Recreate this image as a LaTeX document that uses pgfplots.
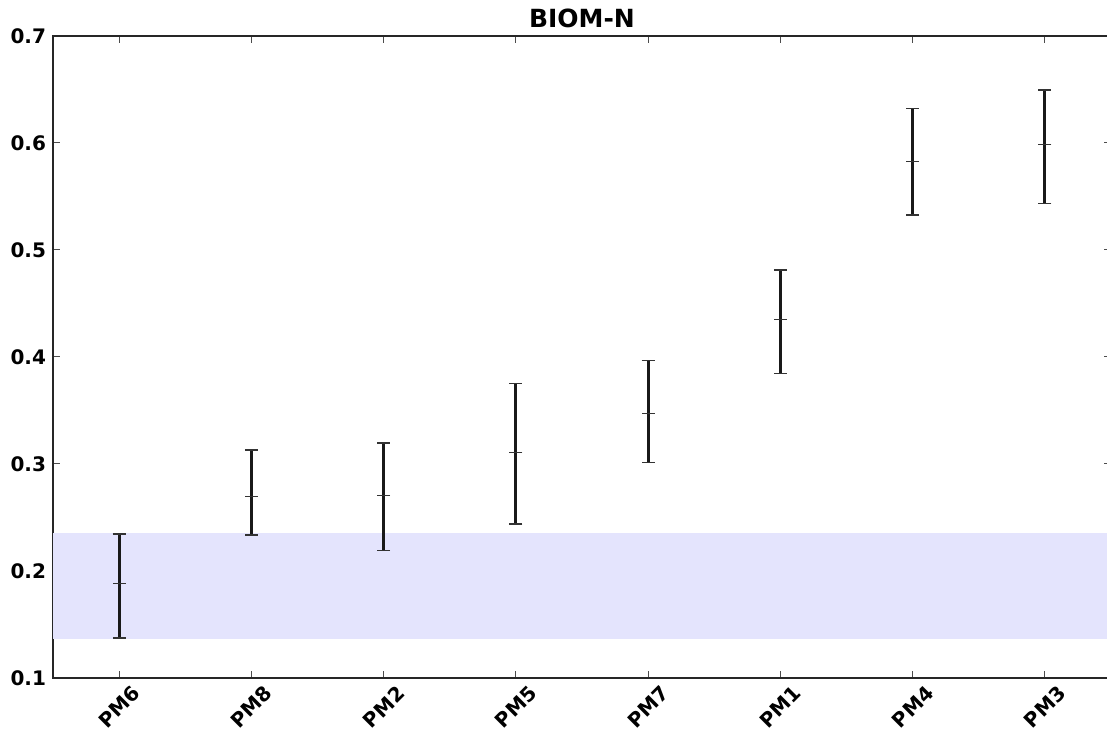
\documentclass[border=0pt]{standalone}
\usepackage{fontspec}
\setmainfont{DejaVu Sans}
\usepackage{pgfplots}
\pgfplotsset{compat=1.18}
\definecolor{band}{RGB}{228,228,253}
\pgfplotstableread{
x y ep em
0 0.1880 0.0466 0.0506
1 0.2695 0.0436 0.0359
2 0.2704 0.0492 0.0511
3 0.3106 0.0644 0.0667
4 0.3474 0.0491 0.0458
5 0.4349 0.0464 0.0501
6 0.5825 0.0499 0.0498
7 0.5990 0.0505 0.0555
}\datatable
\begin{document}
\begin{tikzpicture}
\begin{axis}[
  scale only axis, width=529pt, height=321pt,
  xmin=-0.5, xmax=7.5, ymin=0.1, ymax=0.7,
  xtick={0,...,7}, xticklabels={PM6,PM8,PM2,PM5,PM7,PM1,PM4,PM3},
  ytick={0.1,0.2,0.3,0.4,0.5,0.6,0.7},
  yticklabel style={/pgf/number format/fixed, /pgf/number format/precision=1, /pgf/number format/fixed zerofill},
  /pgf/number format/assume math mode=true,
  tick label style={font=\bfseries\fontsize{10}{12}\selectfont},
  xticklabel style={yshift=-14.5pt, rotate=45, anchor=center},
  title={BIOM-N},
  title style={font=\bfseries\fontsize{12.5}{14}\selectfont, at={(0.5,1)}, anchor=base, yshift=-2pt},
  tick align=inside, major tick length=3.5pt,
  tick style={line width=0.5pt, color=black!70},
  axis line style={line width=1pt, black!85},
]
\addplot[fill=band, draw=none] coordinates {(-0.5,0.1364) (7.5,0.1364) (7.5,0.2358) (-0.5,0.2358)} -- cycle;
\addplot[only marks, mark=-, mark size=3.2pt, black, mark options={line width=0.5pt, black!80},
  error bars/.cd, y dir=both, y explicit,
  error bar style={line width=1.4pt, black!90},
  error mark options={rotate=90, mark size=3.2pt, line width=0.6pt, black!80}]
  table[x=x, y=y, y error plus=ep, y error minus=em] {\datatable};
\end{axis}
\pgfresetboundingbox
\path[use as bounding box] ([shift={(-26.5pt,-26.5pt)}]current axis.south west) rectangle ([shift={(527pt,339pt)}]current axis.south west);
\end{tikzpicture}
\end{document}
